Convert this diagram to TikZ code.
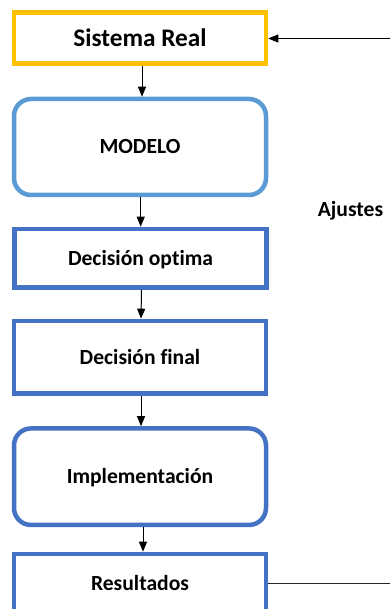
\documentclass[tikz,border=0pt]{standalone}
\usepackage{fontspec}
\setmainfont{Carlito}[Ligatures=NoCommon]
\usetikzlibrary{arrows.meta}

\definecolor{boxyellow}{HTML}{FFC000}
\definecolor{boxlight}{HTML}{5B9BD5}
\definecolor{boxblue}{HTML}{4472C4}

\tikzset{
  stage/.style={draw=boxblue, line width=4.5pt, fill=white, inner sep=0pt,
    minimum width=252pt, text height=13.9pt, text depth=0pt,
    font=\fontsize{21.6}{26}\selectfont\bfseries},
  roundstage/.style={stage, rounded corners=17pt},
  flow/.style={line width=1pt, draw=black,
    -{Triangle[length=10pt,width=8pt]}},
  plain/.style={line width=1pt, draw=black!85},
}

\begin{document}
\begin{tikzpicture}[x=1pt, y=-1pt]
  \clip (0,0) rectangle (390,609);
  \fill[white] (0,0) rectangle (390,609);

  % stages of the process, top to bottom
  \node[stage, draw=boxyellow, minimum height=51pt, text height=16.3pt,
        font=\fontsize{25.3}{30}\selectfont\bfseries]
        (real) at (140,38) {Sistema Real};
  \node[roundstage, draw=boxlight, minimum height=96pt]
        (modelo) at (140,147) {MODELO};
  \node[stage, minimum height=58.7pt] (optima) at (140.5,258.3) {Decisión optima};
  \node[stage, minimum height=72.5pt] (final) at (140,357.2) {Decisión final};
  \node[roundstage, minimum height=96.5pt] (impl) at (140,476.7) {Implementación};
  \node[stage, minimum height=58.7pt] (res) at (140,583.3) {Resultados};

  % feedback label
  \node[inner sep=0pt, text height=13.9pt, text depth=0pt,
        font=\fontsize{21.6}{26}\selectfont\bfseries]
        (ajustes) at (350.5,209.7) {Ajustes};

  % downward flow
  \draw[flow] ([xshift=2pt]real.south) -- ([xshift=2pt]modelo.north);
  \draw[flow] ([xshift=0.7pt]modelo.south) -- ([xshift=0.2pt]optima.north);
  \draw[flow] ([xshift=1pt]optima.south) -- ([xshift=1pt]final.north);
  \draw[flow] ([xshift=1pt]final.south) -- ([xshift=1pt]impl.north);
  \draw[flow] ([xshift=3pt]impl.south) -- ([xshift=3pt]res.north);

  % feedback loop ends, running off the right edge
  \coordinate (fbtop) at (392,38.5);
  \coordinate (fbbot) at (392,583.3);
  \draw[flow] (fbtop) -- (real.east |- fbtop);
  \draw[plain] (res.east) -- (fbbot);
\end{tikzpicture}
\end{document}
